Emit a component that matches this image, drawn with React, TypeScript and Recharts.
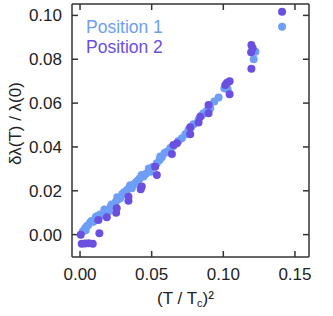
import { Legend, Scatter, ScatterChart, XAxis, YAxis } from 'recharts'

// (T/Tc)^2, δλ(T)/λ(0)
const position1: [number, number][] = [
  [0.002, 0.0015], [0.0035, 0.0029], [0.004, 0.002], [0.005, 0.004], [0.0058, 0.0044],
  [0.007, 0.0055], [0.008, 0.0062], [0.0093, 0.0059], [0.011, 0.008], [0.012, 0.0085],
  [0.0128, 0.0075], [0.014, 0.0092], [0.0163, 0.009], [0.017, 0.0115], [0.018, 0.011],
  [0.0198, 0.0105], [0.0215, 0.0128], [0.022, 0.0138], [0.0233, 0.0135], [0.025, 0.015],
  [0.026, 0.017], [0.027, 0.0162], [0.028, 0.0166], [0.0295, 0.0185], [0.031, 0.0195],
  [0.0315, 0.0189], [0.033, 0.0205], [0.0345, 0.0215], [0.035, 0.0225], [0.0361, 0.0212],
  [0.0375, 0.0228], [0.0385, 0.0234], [0.039, 0.0238], [0.04, 0.0245], [0.0415, 0.0255],
  [0.043, 0.0272], [0.0443, 0.0265], [0.046, 0.0278], [0.048, 0.0302], [0.049, 0.0287],
  [0.051, 0.031], [0.0536, 0.0326], [0.0555, 0.034], [0.056, 0.0356], [0.0571, 0.0353],
  [0.059, 0.0372], [0.0606, 0.0378], [0.063, 0.0395], [0.0652, 0.0404], [0.0687, 0.0427],
  [0.0711, 0.044], [0.0735, 0.0458], [0.0757, 0.0477], [0.0775, 0.049], [0.0792, 0.0503],
  [0.0827, 0.0523], [0.085, 0.0545], [0.0862, 0.0554], [0.0885, 0.0565], [0.0909, 0.0576],
  [0.0937, 0.0607], [0.0967, 0.0626], [0.1007, 0.0668], [0.1026, 0.0665], [0.103, 0.0663],
  [0.1212, 0.08], [0.1224, 0.0834], [0.141, 0.0948],
]

const position2: [number, number][] = [
  [0.0005, 0.0], [0.0012, -0.0042], [0.0035, -0.004], [0.006, -0.0039], [0.0089, -0.0042],
  [0.0128, 0.0067], [0.0135, 0.0006], [0.0187, 0.0079], [0.0252, 0.01], [0.0256, 0.012],
  [0.0338, 0.0155], [0.0338, 0.0173], [0.0424, 0.0207], [0.0431, 0.0219], [0.0524, 0.031],
  [0.0536, 0.0272], [0.0641, 0.0368], [0.0652, 0.0409], [0.0676, 0.0417], [0.0769, 0.0458],
  [0.0769, 0.049], [0.0827, 0.0511], [0.0839, 0.0538], [0.0897, 0.0554], [0.0897, 0.0591],
  [0.1014, 0.0683], [0.1026, 0.0693], [0.1044, 0.07], [0.1044, 0.064], [0.1194, 0.0832],
  [0.1196, 0.0865], [0.1205, 0.085], [0.1196, 0.0757], [0.141, 0.1017],
]

const xTicks = [0, 0.05, 0.1, 0.15]
const yTicks = [0, 0.02, 0.04, 0.06, 0.08, 0.1]
const xDomain = [-0.0056, 0.1598]
const yDomain = [-0.0102, 0.1052]

const seriesNames = ['Position 1', 'Position 2']
const seriesColors = ['#6e9ef5', '#6a4fe0']

const FONT = '"Liberation Sans", Arial, Helvetica, sans-serif'
const AXIS = '#333'
const tickStyle = { fontSize: 17, fill: '#222', fontFamily: FONT }

const toRows = (pts: [number, number][]) => pts.map(([x, y]) => ({ x, y }))

const Dot = (props: any) => (
  <circle cx={props.cx} cy={props.cy} r={4} fill={props.fill} />
)

function LegendBox() {
  return (
    <div style={{ fontFamily: FONT, fontSize: 17.5, lineHeight: '20px' }}>
      {seriesNames.map((n, i) => (
        <div key={n} style={{ color: seriesColors[i] }}>{n}</div>
      ))}
    </div>
  )
}

function XTitle({ viewBox }: any) {
  const cx = viewBox.x + viewBox.width / 2 - 5
  return (
    <text x={cx} y={viewBox.y + 47} textAnchor="middle" fontFamily={FONT} fontSize={17} fill="#222">
      <tspan>(T / T</tspan>
      <tspan fontSize={11} dy={3}>c</tspan>
      <tspan dy={-3}>)²</tspan>
    </text>
  )
}

function YTitle({ viewBox }: any) {
  const cx = viewBox.x + 15
  const cy = viewBox.y + viewBox.height / 2 - 7
  return (
    <text
      x={cx}
      y={cy}
      dy="0.35em"
      textAnchor="middle"
      transform={`rotate(-90, ${cx}, ${cy})`}
      fontFamily={FONT}
      fontSize={17}
      fill="#222"
    >
      δλ(T) / λ(0)
    </text>
  )
}

export default function App() {
  return (
    <div style={{ position: 'absolute', left: 0, top: 0, background: '#fff' }}>
      <ScatterChart width={333} height={316} margin={{ top: 3, right: 23, bottom: 0, left: 0 }}>
        <XAxis
          dataKey="x"
          type="number"
          domain={xDomain}
          allowDataOverflow
          ticks={xTicks}
          tickFormatter={(v: number) => v.toFixed(2)}
          height={59}
          tickSize={-6}
          tickMargin={17}
          tick={tickStyle}
          stroke={AXIS}
          strokeWidth={1.5}
          label={<XTitle />}
        />
        <XAxis
          xAxisId="top"
          dataKey="x"
          orientation="top"
          type="number"
          domain={xDomain}
          allowDataOverflow
          ticks={xTicks}
          tickFormatter={() => ''}
          height={1}
          tickSize={-6}
          stroke={AXIS}
          strokeWidth={1.5}
        />
        <YAxis
          dataKey="y"
          type="number"
          domain={yDomain}
          allowDataOverflow
          ticks={yTicks}
          tickFormatter={(v: number) => v.toFixed(2)}
          width={72}
          tickSize={-6}
          tickMargin={16}
          tick={tickStyle}
          stroke={AXIS}
          strokeWidth={1.5}
          label={<YTitle />}
        />
        <YAxis
          yAxisId="right"
          dataKey="y"
          orientation="right"
          type="number"
          domain={yDomain}
          allowDataOverflow
          ticks={yTicks}
          tickFormatter={() => ''}
          width={1}
          tickSize={-6}
          stroke={AXIS}
          strokeWidth={1.5}
        />
        <Legend
          layout="vertical"
          align="center"
          verticalAlign="middle"
          content={<LegendBox />}
          wrapperStyle={{ top: 17, left: 86, width: 'auto' }}
        />
        <Scatter
          name={seriesNames[0]}
          data={toRows(position1)}
          fill={seriesColors[0]}
          shape={<Dot />}
          isAnimationActive={false}
        />
        <Scatter
          name={seriesNames[1]}
          data={toRows(position2)}
          fill={seriesColors[1]}
          shape={<Dot />}
          isAnimationActive={false}
        />
        <Scatter
          xAxisId="top"
          yAxisId="right"
          data={[]}
          isAnimationActive={false}
          legendType="none"
        />
      </ScatterChart>
    </div>
  )
}
